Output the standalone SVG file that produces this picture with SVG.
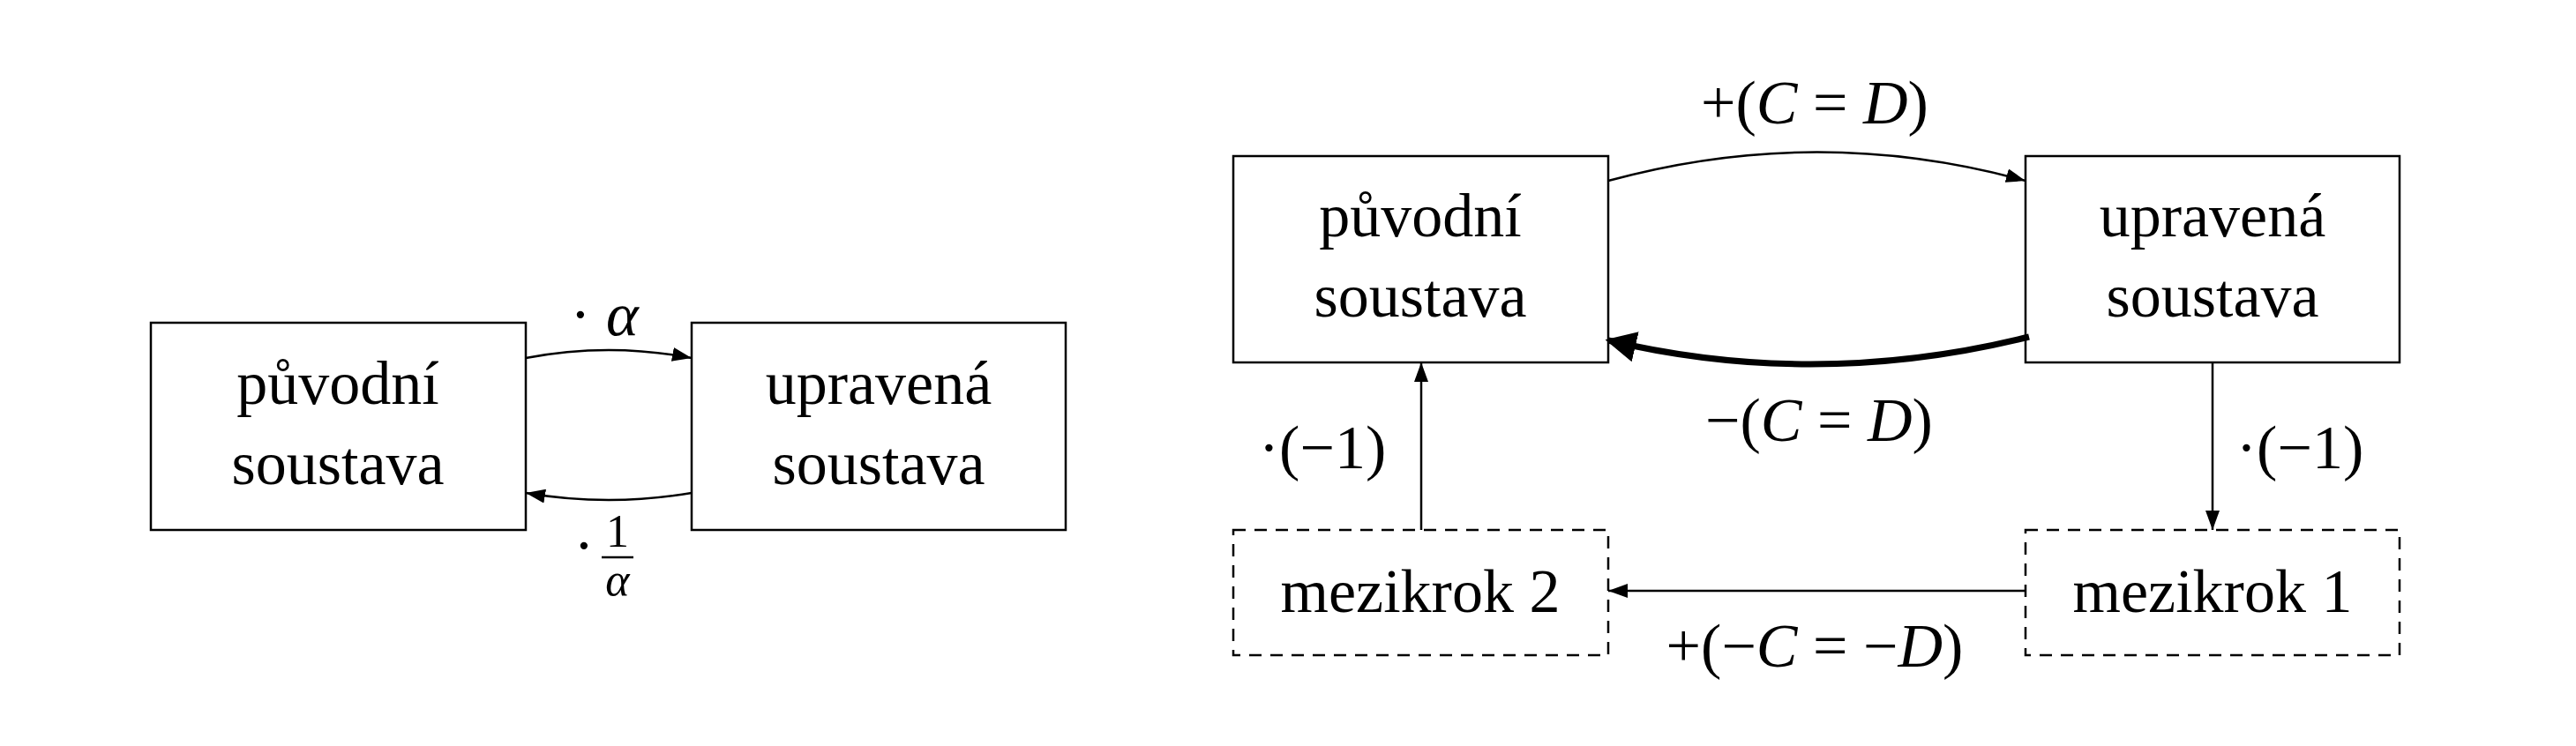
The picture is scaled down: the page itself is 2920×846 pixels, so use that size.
<svg xmlns="http://www.w3.org/2000/svg" width="2920" height="846" viewBox="0 0 2920 846">
<style>
text{font-family:"Liberation Serif","DejaVu Serif",serif;font-size:70px;fill:#000;text-anchor:middle}
.i{font-style:italic}
.box{fill:#fff;stroke:#000;stroke-width:2.5}
.dash{stroke-dasharray:14 10}
.e{fill:none;stroke:#000;stroke-width:2.5}
</style>
<defs>
<marker id="a" viewBox="0 0 22 16" refX="22" refY="8" markerWidth="22" markerHeight="16" markerUnits="userSpaceOnUse" orient="auto"><path d="M0,0L22,8L0,16z"/></marker>
<marker id="b" viewBox="0 0 10 10" refX="9" refY="5" markerWidth="5" markerHeight="5" orient="auto"><path d="M0,0L10,5L0,10z"/></marker>
</defs>
<g id="n1"><rect class="box" x="171" y="366" width="425" height="235"/><text x="383" y="458">původní</text><text x="383" y="549">soustava</text></g>
<g id="n2"><rect class="box" x="784" y="366" width="424" height="235"/><text x="996" y="458">upravená</text><text x="996" y="549">soustava</text></g>
<g id="n3"><rect class="box" x="1398" y="177" width="425" height="234"/><text x="1610" y="268">původní</text><text x="1610" y="359">soustava</text></g>
<g id="n4"><rect class="box" x="2296" y="177" width="424" height="234"/><text x="2508" y="268">upravená</text><text x="2508" y="359">soustava</text></g>
<g id="n5"><rect class="box dash" x="1398" y="601" width="425" height="142"/><text x="1610" y="694">mezikrok 2</text></g>
<g id="n6"><rect class="box dash" x="2296" y="601" width="424" height="142"/><text x="2508" y="694">mezikrok 1</text></g>
<g id="edges">
<path class="e" d="M596,406Q690,388 784,406" marker-end="url(#a)"/>
<path class="e" d="M784,559Q690,575 596,559" marker-end="url(#a)"/>
<path class="e" d="M1823,205Q2060,140 2296,205" marker-end="url(#a)"/>
<path d="M2300,382Q2060,442 1823,386" fill="none" stroke="#000" stroke-width="7" marker-end="url(#b)"/>
<path class="e" d="M2508,411V601" marker-end="url(#a)"/>
<path class="e" d="M1611,601V411" marker-end="url(#a)"/>
<path class="e" d="M2296,670H1823" marker-end="url(#a)"/>
</g>
<g id="labels">
<text x="685" y="380">· <tspan class="i">α</tspan></text>
<text x="662" y="642">·</text>
<text x="700" y="620" style="font-size:52px">1</text>
<line x1="682" y1="632" x2="718" y2="632" stroke="#000" stroke-width="2.5"/>
<text x="700" y="675" class="i" style="font-size:52px">α</text>
<text x="2057" y="140">+(<tspan class="i">C</tspan> = <tspan class="i">D</tspan>)</text>
<text x="2062" y="500">−(<tspan class="i">C</tspan> = <tspan class="i">D</tspan>)</text>
<text x="1499" y="531">·(−1)</text>
<text x="2607" y="531">·(−1)</text>
<text x="2057" y="756">+(−<tspan class="i">C</tspan> = −<tspan class="i">D</tspan>)</text>
</g>
</svg>
